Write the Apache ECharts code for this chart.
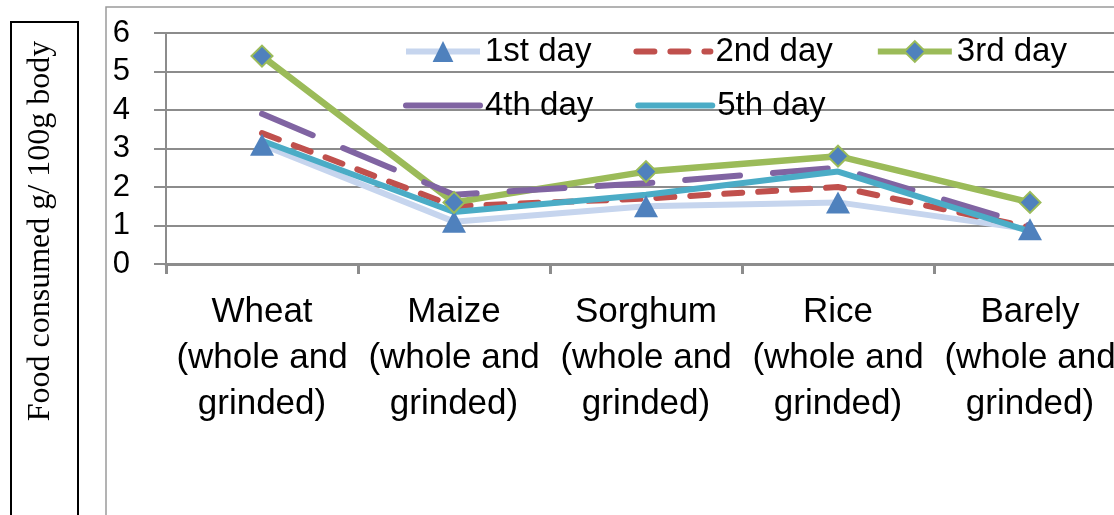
<!DOCTYPE html>
<html>
<head>
<meta charset="utf-8">
<script src="https://cdn.jsdelivr.net/npm/echarts@6/dist/echarts.min.js"></script>
<style>html,body{margin:0;padding:0;background:#fff;}#c{width:1114px;height:515px;}</style>
</head>
<body>
<div id="c"></div>
<script>
const categories = ['Wheat\n(whole and\ngrinded)', 'Maize\n(whole and\ngrinded)', 'Sorghum\n(whole and\ngrinded)', 'Rice\n(whole and\ngrinded)', 'Barely\n(whole and\ngrinded)'];
const day1 = [3.1, 1.1, 1.5, 1.6, 0.9];
const day2 = [3.4, 1.5, 1.7, 2.0, 0.95];
const day3 = [5.4, 1.6, 2.4, 2.8, 1.6];
const day4 = [3.9, 1.8, 2.1, 2.5, 1.0];
const day5 = [3.2, 1.35, 1.8, 2.4, 0.85];
const yTicks = [0, 1, 2, 3, 4, 5, 6];
const yTitle = 'Food consumed g/ 100g body';

const chart = echarts.init(document.getElementById('c'), null, {renderer: 'canvas'});
const sans = 'Liberation Sans';
const gridCol = '#8c8c8c';
const legendText = {fontFamily: sans, fontSize: 33, color: '#000'};
const noSym = {itemStyle: {opacity: 0}};
const legendCommon = {left: 403, itemWidth: 74, itemHeight: 26, itemGap: 42, textStyle: legendText, padding: 0, lineStyle: {width: 6}};

chart.setOption({
  animation: false,
  backgroundColor: '#fff',
  legend: [
    Object.assign({data: ['1st day', {name: '2nd day', ...noSym}, '3rd day'], top: 35}, legendCommon),
    Object.assign({data: [{name: '4th day', ...noSym, lineStyle: {type: 'solid', width: 6}}, {name: '5th day', ...noSym}], top: 89}, legendCommon)
  ],
  grid: {left: 166, top: 33, width: 960, height: 231, containLabel: false, outerBoundsMode: 'none'},
  xAxis: {
    type: 'category',
    data: categories,
    boundaryGap: true,
    axisLine: {lineStyle: {color: gridCol, width: 3}},
    axisTick: {show: true, length: 10, lineStyle: {color: gridCol, width: 3}},
    axisLabel: {interval: 0, fontFamily: sans, fontSize: 35, lineHeight: 46, color: '#000', margin: 25},
    splitLine: {show: false}
  },
  yAxis: {
    type: 'value',
    min: yTicks[0], max: yTicks[yTicks.length - 1], interval: 1,
    axisLine: {show: true, lineStyle: {color: gridCol, width: 2}},
    axisTick: {show: true, length: 12, lineStyle: {color: gridCol, width: 2}},
    axisLabel: {fontFamily: sans, fontSize: 31, color: '#000', margin: 36},
    splitLine: {lineStyle: {color: gridCol, width: 2}}
  },
  graphic: [
    {type: 'rect', shape: {x: 106, y: 7, width: 1100, height: 600}, style: {fill: 'none', stroke: '#9a9a9a', lineWidth: 1.5}, silent: true, z: -1},
    {type: 'rect', shape: {x: 11, y: 22, width: 67, height: 600}, style: {fill: 'none', stroke: '#000', lineWidth: 2}, silent: true},
    {type: 'text', x: 41, y: 231, rotation: Math.PI / 2,
      style: {text: yTitle, fontFamily: 'Liberation Serif', fontSize: 32, fill: '#000', align: 'center', verticalAlign: 'middle'}, silent: true}
  ],
  series: [
    {name: '1st day', type: 'line', data: day1, symbol: 'triangle', symbolSize: [24, 22],
      itemStyle: {color: '#4F81BD'}, lineStyle: {color: '#C6D5EE', width: 6}},
    {name: '2nd day', type: 'line', data: day2, symbol: 'none', showSymbol: false,
      itemStyle: {color: '#C0504D'}, lineStyle: {color: '#C0504D', width: 6, type: [18, 16], cap: 'round'}},
    {name: '3rd day', type: 'line', data: day3, symbol: 'diamond', symbolSize: 21,
      itemStyle: {color: '#4F81BD', borderColor: '#9BBB59', borderWidth: 2}, lineStyle: {color: '#9BBB59', width: 6.5}},
    {name: '4th day', type: 'line', data: day4, symbol: 'none', showSymbol: false,
      itemStyle: {color: '#8064A2'}, lineStyle: {color: '#8064A2', width: 6, type: [55, 33], cap: 'round'}},
    {name: '5th day', type: 'line', data: day5, symbol: 'none', showSymbol: false,
      itemStyle: {color: '#4BACC6'}, lineStyle: {color: '#4BACC6', width: 6, cap: 'round'}}
  ]
});
</script>
</body>
</html>
